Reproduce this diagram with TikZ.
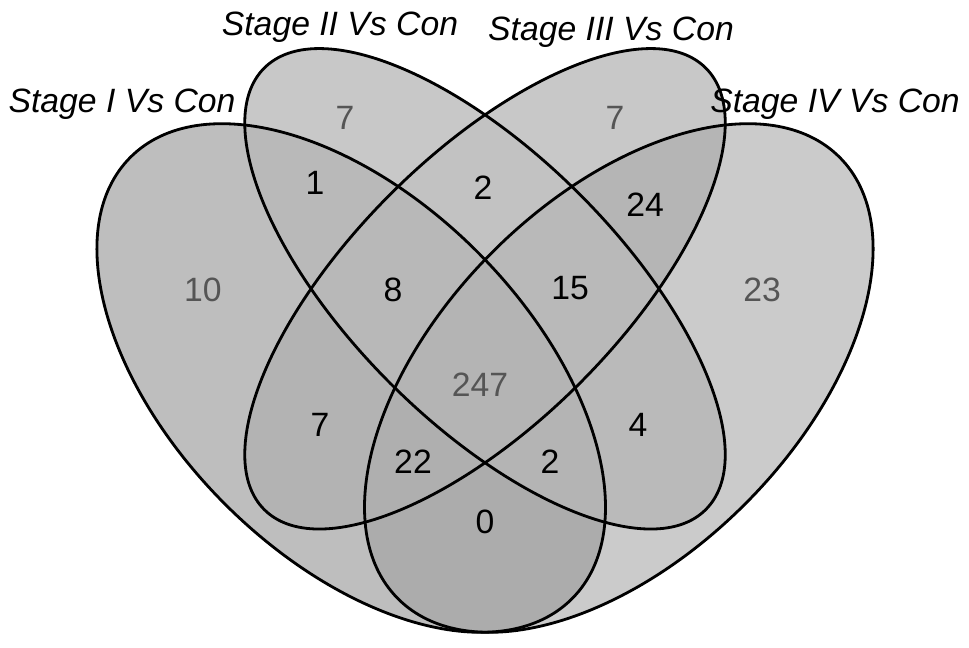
\documentclass[tikz,border=0pt]{standalone}
\usepackage{fontspec}
\setmainfont{Liberation Sans}
\definecolor{cA}{HTML}{BEBEBE}
\definecolor{cB}{HTML}{C8C8C8}
\definecolor{cC}{HTML}{C8C8C8}
\definecolor{cD}{HTML}{CBCBCB}
\definecolor{cAB}{HTML}{B9B9B9}
\definecolor{cBC}{HTML}{C2C2C2}
\definecolor{cCD}{HTML}{B5B5B5}
\definecolor{cAC}{HTML}{B3B3B3}
\definecolor{cBD}{HTML}{BABABA}
\definecolor{cAD}{HTML}{ACACAC}
\definecolor{cABC}{HTML}{B8B8B8}
\definecolor{cBCD}{HTML}{B9B9B9}
\definecolor{cACD}{HTML}{AFAFAF}
\definecolor{cABD}{HTML}{B4B4B4}
\definecolor{cABCD}{HTML}{B4B4B4}
\definecolor{numgray}{HTML}{555555}
\newcommand\VennA[1]{\path[#1,rotate around={-45:(351.2,378)}] (351.2,378) ellipse [x radius=312.2, y radius=178.4];}
\newcommand\VennB[1]{\path[#1,rotate around={-45:(485,288.8)}] (485,288.8) ellipse [x radius=312.2, y radius=133.8];}
\newcommand\VennC[1]{\path[#1,rotate around={45:(485,288.8)}] (485,288.8) ellipse [x radius=312.2, y radius=133.8];}
\newcommand\VennD[1]{\path[#1,rotate around={45:(618.8,378)}] (618.8,378) ellipse [x radius=312.2, y radius=178.4];}
\begin{document}
\begin{tikzpicture}[x=0.02cm,y=-0.02cm,
  num/.style={font=\fontsize{19.2}{23}\selectfont, text=black, inner sep=0pt},
  numg/.style={num, text=numgray},
  lab/.style={font=\fontsize{19.2}{23}\selectfont\itshape, anchor=base, inner sep=0pt},
  outline/.style={draw=black, line width=1.6pt}]
\useasboundingbox (0,0) rectangle (969,648);
% single sets
\VennA{fill=cA}
\VennB{fill=cB}
\VennC{fill=cC}
\VennD{fill=cD}
% pairs
\begin{scope}\VennA{clip}\VennB{fill=cAB}\end{scope}
\begin{scope}\VennA{clip}\VennC{fill=cAC}\end{scope}
\begin{scope}\VennA{clip}\VennD{fill=cAD}\end{scope}
\begin{scope}\VennB{clip}\VennC{fill=cBC}\end{scope}
\begin{scope}\VennB{clip}\VennD{fill=cBD}\end{scope}
\begin{scope}\VennC{clip}\VennD{fill=cCD}\end{scope}
% triples
\begin{scope}\VennA{clip}\VennB{clip}\VennC{fill=cABC}\end{scope}
\begin{scope}\VennA{clip}\VennB{clip}\VennD{fill=cABD}\end{scope}
\begin{scope}\VennA{clip}\VennC{clip}\VennD{fill=cACD}\end{scope}
\begin{scope}\VennB{clip}\VennC{clip}\VennD{fill=cBCD}\end{scope}
% all four
\begin{scope}\VennA{clip}\VennB{clip}\VennC{clip}\VennD{fill=cABCD}\end{scope}
% outlines
\VennA{outline}
\VennB{outline}
\VennC{outline}
\VennD{outline}
% labels
\node[lab] (labI) at (122,113) {Stage I Vs Con};
\node[lab] (labII) at (340,36) {Stage II Vs Con};
\node[lab] (labIII) at (611,41) {Stage III Vs Con};
\node[lab] (labIV) at (835,113) {Stage IV Vs Con};
% counts
\node[numg] (nA) at (203,290) {10};
\node[numg] (nB) at (345,118) {7};
\node[numg] (nC) at (615,118) {7};
\node[numg] (nD) at (762,290) {23};
\node[num] (nAB) at (315,183) {1};
\node[num] (nBC) at (483,188) {2};
\node[num] (nCD) at (645,205) {24};
\node[num] (nABC) at (393,290) {8};
\node[num] (nBCD) at (570,288) {15};
\node[numg] (nABCD) at (480,385) {247};
\node[num] (nAC) at (320,425) {7};
\node[num] (nBD) at (638,425) {4};
\node[num] (nACD) at (413,462) {22};
\node[num] (nABD) at (550,462) {2};
\node[num] (nAD) at (485,522) {0};
\end{tikzpicture}
\end{document}
